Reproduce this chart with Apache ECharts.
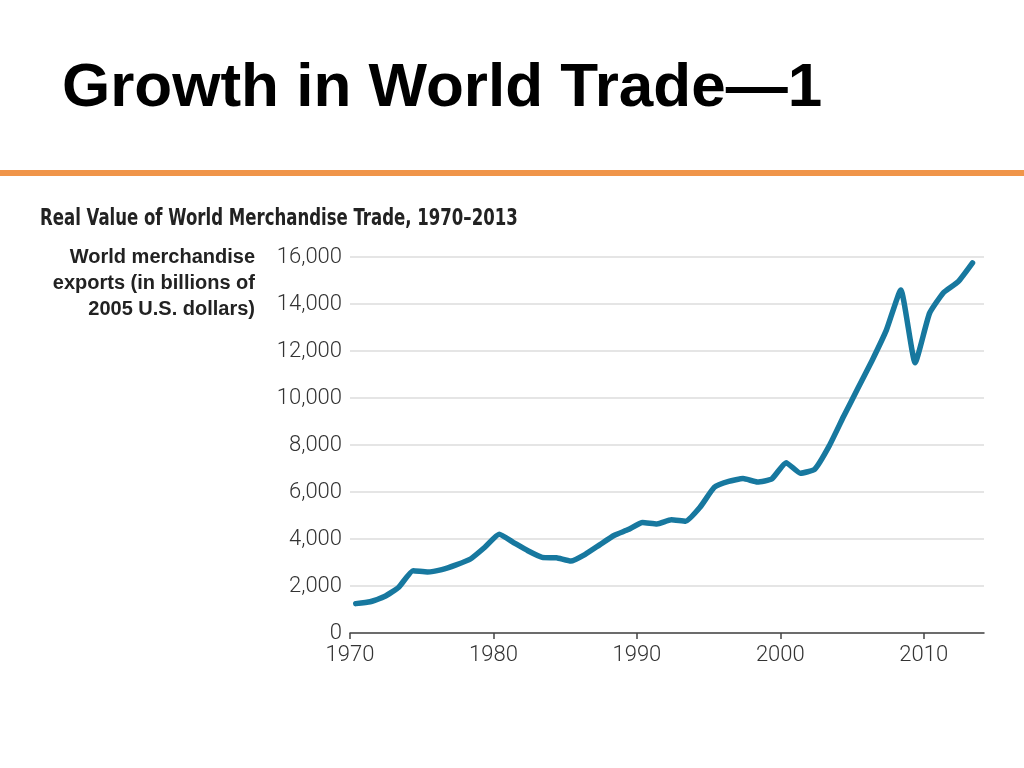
<!DOCTYPE html>
<html>
<head>
<meta charset="utf-8">
<script src="https://cdn.jsdelivr.net/npm/echarts@6/dist/echarts.min.js"></script>
<style>
html,body{margin:0;padding:0;background:#fff;}
#chart{width:1024px;height:768px;}
</style>
</head>
<body>
<div id="chart"></div>
<script>
// Data: real value of world merchandise exports (billions of 2005 US$)
const years = [1970,1971,1972,1973,1974,1975,1976,1977,1978,1979,
  1980,1981,1982,1983,1984,1985,1986,1987,1988,1989,
  1990,1991,1992,1993,1994,1995,1996,1997,1998,1999,
  2000,2001,2002,2003,2004,2005,2006,2007,2008,2009,
  2010,2011,2012,2013];
const exportsValues = [1250,1330,1550,1950,2650,2600,2700,2900,3150,3650,
  4200,3850,3500,3220,3200,3060,3350,3750,4150,4400,
  4700,4640,4820,4760,5350,6200,6450,6570,6430,6550,
  7250,6800,6970,7950,9200,10400,11600,12900,14600,11500,
  13600,14500,14950,15750];
const yTicks = [0,2000,4000,6000,8000,10000,12000,14000,16000];
const xTicks = [1970,1980,1990,2000,2010];

const titleText = 'Growth in World Trade\u20141';
const subtitleText = 'Real Value of World Merchandise Trade, 1970\u20132013';
const yNameLines = ['World merchandise','exports (in billions of','2005 U.S. dollars)'];

// values are plotted at mid-year
const seriesData = years.map((y, i) => [y + 0.4, exportsValues[i]]);

const chart = echarts.init(document.getElementById('chart'), null, {renderer: 'canvas'});
chart.setOption({
  animation: false,
  backgroundColor: '#ffffff',
  grid: {left: 350, right: 40, top: 257, bottom: 135, containLabel: false},
  xAxis: {
    type: 'value',
    min: 1970, max: 2014.2, interval: 10,
    axisLine: {show: true, lineStyle: {color: '#444', width: 1.5}},
    axisTick: {show: true, length: 6, inside: false, lineStyle: {color: '#444', width: 1.5}},
    splitLine: {show: false},
    axisLabel: {
      color: '#333', fontFamily: 'Roboto', fontWeight: 300, fontSize: 22, margin: 11,
      showMaxLabel: false,
      formatter: v => xTicks.includes(v) ? String(v) : ''
    }
  },
  yAxis: {
    type: 'value',
    min: 0, max: 16000, interval: 2000,
    axisLine: {show: false},
    axisTick: {show: false},
    splitLine: {show: true, lineStyle: {color: '#dcdcdc', width: 1.5}},
    axisLabel: {
      color: '#333', fontFamily: 'Roboto', fontWeight: 300, fontSize: 22, margin: 8,
      formatter: v => yTicks.includes(v) ? v.toLocaleString('en-US') : ''
    }
  },
  series: [{
    type: 'line',
    data: seriesData,
    smooth: 0.15,
    showSymbol: false,
    symbol: 'none',
    lineStyle: {color: '#17789f', width: 5.5, cap: 'round', join: 'round'},
    z: 5
  }],
  graphic: [
    {type: 'text', left: 62, top: 58, style: {text: titleText, fill: '#000', font: 'bold 62px "Liberation Sans", Arial, sans-serif'}},
    {type: 'rect', shape: {x: 0, y: 170, width: 1024, height: 6}, style: {fill: '#f0954a'}},
    {type: 'text', x: 40, y: 219, scaleX: 0.8, originX: 0, originY: 0, style: {text: subtitleText, x: 0, y: 0, fill: '#222', verticalAlign: 'middle', font: 'bold 23px "DejaVu Sans Condensed", sans-serif'}},
    {type: 'text', x: 255, y: 244, style: {text: yNameLines.join('\n'), fill: '#222', align: 'right', verticalAlign: 'top', lineHeight: 26, font: 'bold 20px "Liberation Sans", Arial, sans-serif'}}
  ]
});
</script>
</body>
</html>
